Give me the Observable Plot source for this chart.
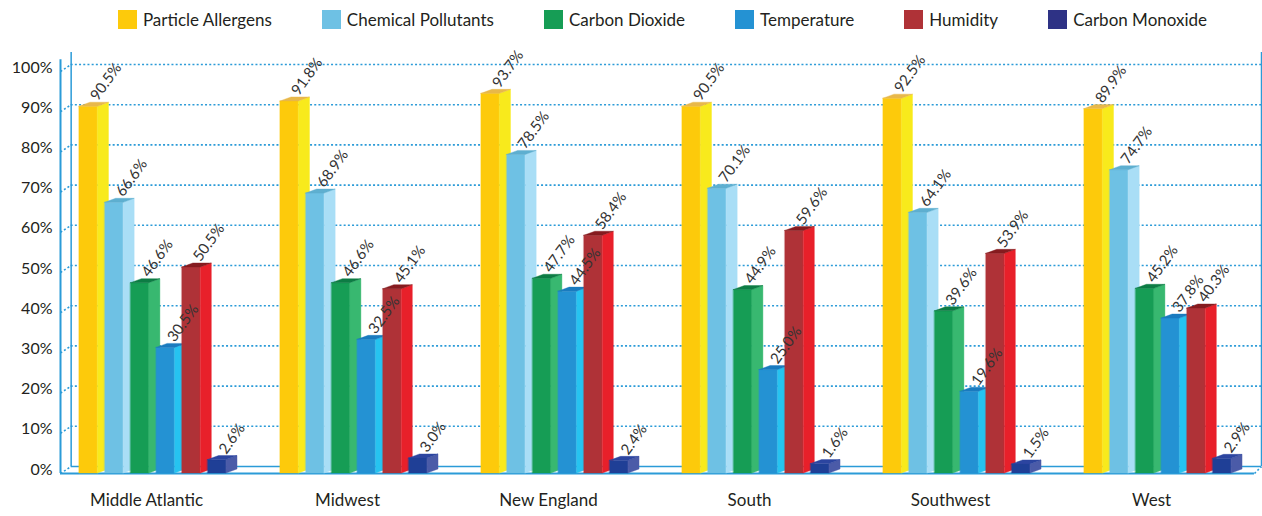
<!DOCTYPE html>
<html>
<head>
<meta charset="utf-8">
<script src="https://cdn.jsdelivr.net/npm/d3@7"></script>
<script src="https://cdn.jsdelivr.net/npm/@observablehq/plot@0.6"></script>
<style>
  body { margin: 0; background: #fff; font-family: Lato, "Open Sans", sans-serif; }
  #legend {
    width: 1262px; height: 38px; box-sizing: border-box;
    display: flex; align-items: center; justify-content: center;
    gap: 50px; padding-left: 63px; padding-top: 1px;
  }
  .item { display: flex; align-items: center; gap: 6px; font-size: 17px; color: #231f20; }
  .sw { width: 19px; height: 19px; }
  #chart svg { display: block; }
</style>
</head>
<body>
<div id="legend"></div>
<div id="chart"></div>
<script>
// Survey results: share of respondents concerned about each indoor air factor, by region
const regions = ["Middle Atlantic", "Midwest", "New England", "South", "Southwest", "West"];
const series = ["Particle Allergens", "Chemical Pollutants", "Carbon Dioxide", "Temperature", "Humidity", "Carbon Monoxide"];
const particleAllergens = [90.5, 91.8, 93.7, 90.5, 92.5, 89.9];
const chemicalPollutants = [66.6, 68.9, 78.5, 70.1, 64.1, 74.7];
const carbonDioxide = [46.6, 46.6, 47.7, 44.9, 39.6, 45.2];
const temperature = [30.5, 32.5, 44.5, 25.0, 19.6, 37.8];
const humidity = [50.5, 45.1, 58.4, 59.6, 53.9, 40.3];
const carbonMonoxide = [2.6, 3.0, 2.4, 1.6, 1.5, 2.9];
const yTicks = [0, 10, 20, 30, 40, 50, 60, 70, 80, 90, 100];

const values = [particleAllergens, chemicalPollutants, carbonDioxide, temperature, humidity, carbonMonoxide];

// Face shades for each series: front, lit side, top
const palette = [
  {key: "#fdca0b", front: "#fdca0b", side: "#f8ea1c", top: "#e8b84a"},
  {key: "#6ec1e4", front: "#6ec1e4", side: "#a9def6", top: "#5eafd0"},
  {key: "#169d55", front: "#169d55", side: "#38b870", top: "#0d7c44"},
  {key: "#2492d3", front: "#2492d3", side: "#26c3f0", top: "#1a7bbf"},
  {key: "#af3237", front: "#af3237", side: "#e8202a", top: "#861b1f"},
  {key: "#2e3285", front: "#1f3f96", side: "#4b5ba8", top: "#2c45a0"}
];
const AXIS = "#2b9bd8";

// Legend
const legendBox = d3.select("#legend");
series.forEach((name, j) => {
  const it = legendBox.append("div").attr("class", "item");
  it.append("div").attr("class", "sw").style("background", palette[j].key);
  it.append("span").text(name);
});

// Pseudo-3D geometry, x in region units, y in percentage points
const GROUP_OFFSET = 0.0945; // first bar inset within its region
const PITCH = 0.1279;        // distance between neighbouring bars
const FRONT_W = 0.092;       // width of a bar's front face
const DEPTH_X = 0.0547;      // horizontal depth of the side/top faces
const DEPTH_Y = 1.0;         // vertical depth of the top face
const FLOOR = -1.74;         // front edge of the floor
const BACK_X = 0.053;        // back wall position
const X_END = 5.975;

const faces = [];
const labels = [];
regions.forEach((region, i) => {
  series.forEach((name, j) => {
    const v = values[j][i];
    const L = i + GROUP_OFFSET + j * PITCH;
    const R = L + FRONT_W;
    const t = v - DEPTH_Y;
    const c = palette[j];
    const id = i + "-" + j;
    // front face
    faces.push({id: id + "f", color: c.front, x: L, y1: FLOOR, y2: t});
    faces.push({id: id + "f", color: c.front, x: R, y1: FLOOR, y2: t});
    // side face
    faces.push({id: id + "s", color: c.side, x: R, y1: FLOOR, y2: t});
    faces.push({id: id + "s", color: c.side, x: R + DEPTH_X, y1: FLOOR + DEPTH_Y, y2: v});
    // top face
    faces.push({id: id + "t", color: c.top, x: L, y1: t, y2: t});
    faces.push({id: id + "t", color: c.top, x: L + DEPTH_X, y1: t, y2: v});
    faces.push({id: id + "t", color: c.top, x: R, y1: t, y2: v});
    faces.push({id: id + "t", color: c.top, x: R + DEPTH_X, y1: v, y2: v});
    labels.push({x: L + FRONT_W / 2, y: v, text: v.toFixed(1) + "%"});
  });
});

const dotted = {stroke: AXIS, strokeWidth: 1.6, strokeDasharray: "2,2.2"};

const chart = Plot.plot({
  width: 1262,
  height: 478,
  marginLeft: 60,
  marginRight: 1,
  marginTop: 26,
  marginBottom: 50,
  x: {domain: [0, X_END], axis: null},
  y: {domain: [0, 100], axis: null},
  color: {type: "identity"},
  style: {fontFamily: "Lato, 'Open Sans', sans-serif", background: "white", overflow: "visible"},
  marks: [
    // back-wall gridlines
    Plot.ruleY(yTicks.filter(v => v > 0), {x1: BACK_X, x2: X_END, ...dotted}),
    // connectors from front axis to back wall
    Plot.link(yTicks, {x1: 0, y1: v => v + FLOOR, x2: BACK_X, y2: v => v, ...dotted}),
    Plot.link([0], {x1: X_END - 0.035, y1: FLOOR, x2: X_END, y2: 0, ...dotted}),
    // floor edges
    Plot.ruleY([0], {x1: BACK_X, x2: X_END, stroke: AXIS, strokeWidth: 1.5}),
    Plot.ruleY([FLOOR], {x1: 0, x2: X_END - 0.035, stroke: AXIS, strokeWidth: 2}),
    // wall edges
    Plot.ruleX([BACK_X, X_END], {y1: 0, y2: 103, stroke: AXIS, strokeWidth: 1.5}),
    Plot.ruleX([0], {y1: FLOOR, y2: 101.2, stroke: AXIS, strokeWidth: 2}),
    // bars
    Plot.area(faces, {x1: "x", y1: "y1", y2: "y2", z: "id", fill: "color", stroke: "color", strokeWidth: 0.4, curve: "linear"}),
    // value labels
    Plot.text(labels, {x: "x", y: "y", text: "text", rotate: -54, textAnchor: "start", dx: 5, dy: -4, fontSize: 15, fill: "#333"}),
    // y tick labels
    Plot.text(yTicks, {x: 0, y: v => v, text: v => v + "%", textAnchor: "end", dx: -8, dy: 3, fontSize: 16, fill: "#231f20"}),
    // region labels
    Plot.text(regions, {x: (r, i) => i + 0.428, frameAnchor: "bottom", dy: 39, text: r => r, fontSize: 17, fill: "#231f20"})
  ]
});
document.getElementById("chart").appendChild(chart);
</script>
</body>
</html>
